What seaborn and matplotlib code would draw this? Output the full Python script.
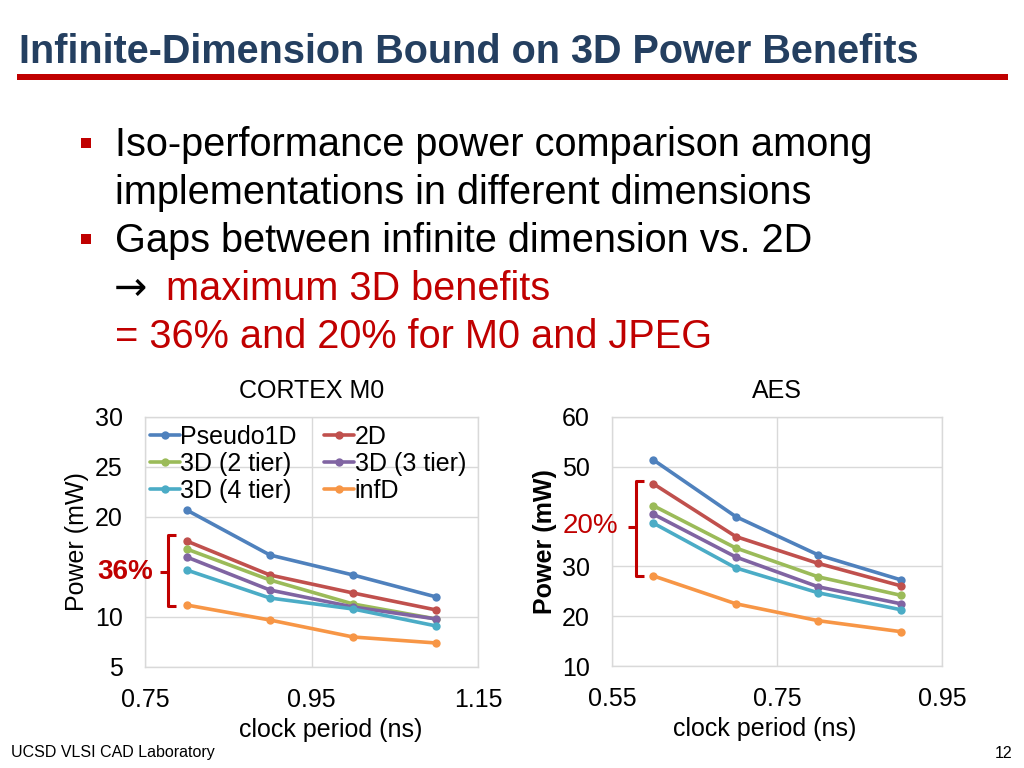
import matplotlib
matplotlib.use("Agg")
import matplotlib.pyplot as plt
from matplotlib import font_manager
from matplotlib.lines import Line2D
from matplotlib.patches import Rectangle
import seaborn as sns
import pandas as pd

# ---------------- data ----------------
series = ["Pseudo1D", "2D", "3D (2 tier)", "3D (3 tier)", "3D (4 tier)", "infD"]
colors = ["#4F81BD", "#C0504D", "#9BBB59", "#8064A2", "#4BACC6", "#F79646"]

m0_clock = [0.8, 0.9, 1.0, 1.1]
m0_pseudo1d = [20.7, 16.2, 14.2, 12.0]
m0_2d = [17.6, 14.2, 12.4, 10.7]
m0_3d2 = [16.8, 13.7, 11.3, 9.8]
m0_3d3 = [16.0, 12.7, 11.0, 9.8]
m0_3d4 = [14.7, 11.9, 10.8, 9.1]
m0_infd = [11.2, 9.7, 8.0, 7.4]

aes_clock = [0.6, 0.7, 0.8, 0.9]
aes_pseudo1d = [51.4, 40.0, 32.3, 27.3]
aes_2d = [46.6, 36.0, 30.6, 26.1]
aes_3d2 = [42.2, 33.7, 27.9, 24.2]
aes_3d3 = [40.5, 31.9, 25.9, 22.5]
aes_3d4 = [38.7, 29.7, 24.7, 21.3]
aes_infd = [28.1, 22.5, 19.1, 16.9]

m0_ticks_x = [0.75, 0.95, 1.15]
m0_ticks_y = [5, 10, 20, 25, 30]
aes_ticks_x = [0.55, 0.75, 0.95]
aes_ticks_y = [10, 20, 30, 50, 60]


def long_df(clock, vals):
    rows = []
    for name, v in zip(series, vals):
        for c, p in zip(clock, v):
            rows.append({"clock": c, "power": p, "series": name})
    return pd.DataFrame(rows)


df_m0 = long_df(m0_clock, [m0_pseudo1d, m0_2d, m0_3d2, m0_3d3, m0_3d4, m0_infd])
df_aes = long_df(aes_clock, [aes_pseudo1d, aes_2d, aes_3d2, aes_3d3, aes_3d4, aes_infd])

# ---------------- style ----------------
sns.set_style("white")
names = {f.name for f in font_manager.fontManager.ttflist}
base_font = "Liberation Sans" if "Liberation Sans" in names else "DejaVu Sans"
title_font = "Liberation Sans Narrow" if "Liberation Sans Narrow" in names else base_font
plt.rcParams["font.family"] = [base_font, "DejaVu Sans"]
plt.rcParams["text.color"] = "black"
plt.rcParams["axes.labelcolor"] = "black"
plt.rcParams["axes.titlecolor"] = "black"

W, H = 1024, 768
fig = plt.figure(figsize=(W / 100, H / 100), dpi=100)


def fx(px):
    return px / W


def fy(py):
    return 1 - py / H


RED = "#C00000"
GRID = "#D9D9D9"
FS = 18
palette = dict(zip(series, colors))


def make_axes(left, right, top, bottom):
    return fig.add_axes([fx(left), fy(bottom), fx(right) - fx(left), fy(top) - fy(bottom)])


def style_axes(ax, xlim, ylim, xt, yt, title, ylabel_bold, xlabel_x):
    ax.set_xlim(*xlim)
    ax.set_ylim(*ylim)
    ax.set_xticks(xt)
    ax.set_yticks(yt)
    ax.set_xticklabels([f"{v:g}" for v in xt])
    ax.set_yticklabels([f"{v:g}" for v in yt])
    ax.grid(True, color=GRID, linewidth=1.0)
    ax.set_axisbelow(True)
    for s in ax.spines.values():
        s.set_color(GRID)
        s.set_linewidth(1.0)
    ax.tick_params(axis="both", length=0, labelsize=FS, colors="black")
    ax.tick_params(axis="y", pad=16)
    ax.tick_params(axis="x", pad=15)
    ax.set_title(title, fontsize=FS, pad=14, color="black")
    ax.set_xlabel("clock period (ns)", fontsize=FS, color="black")
    ax.set_ylabel("Power (mW)", fontsize=FS, color="black",
                  fontweight="bold" if ylabel_bold else "normal")
    ax.xaxis.set_label_coords(xlabel_x, -0.205)
    ax.yaxis.set_label_coords(-0.167, 0.5)


ax1 = make_axes(145, 478, 417, 667)
sns.lineplot(data=df_m0, x="clock", y="power", hue="series", hue_order=series,
             palette=palette, marker="o", markersize=6, markeredgewidth=0,
             linewidth=2.6, ax=ax1, legend=True)
style_axes(ax1, (0.75, 1.15), (5, 30), m0_ticks_x, m0_ticks_y, "CORTEX M0", False, 0.559)

ax2 = make_axes(612, 942, 417, 666)
sns.lineplot(data=df_aes, x="clock", y="power", hue="series", hue_order=series,
             palette=palette, marker="o", markersize=6, markeredgewidth=0,
             linewidth=2.6, ax=ax2, legend=False)
style_axes(ax2, (0.55, 0.95), (10, 60), aes_ticks_x, aes_ticks_y, "AES", True, 0.462)

# legend: columns filled column-wise
handles, labels = ax1.get_legend_handles_labels()
hmap = dict(zip(labels, handles))
order = ["Pseudo1D", "3D (2 tier)", "3D (4 tier)", "2D", "3D (3 tier)", "infD"]
leg = ax1.legend([hmap[k] for k in order], order, ncol=2, loc="upper left",
                 bbox_to_anchor=(-0.008, 1.0), frameon=False, fontsize=FS,
                 handlelength=1.2, handletextpad=0.02, columnspacing=1.1,
                 labelspacing=0.13, borderpad=0.3, borderaxespad=0.0)
for t in leg.get_texts():
    t.set_color("black")

# ---------------- slide decorations ----------------
fig.text(fx(19), fy(63), "Infinite-Dimension Bound on 3D Power Benefits",
         fontsize=28.5, fontweight="bold", color="#243F60", family=[title_font, "DejaVu Sans"],
         ha="left", va="baseline")
fig.add_artist(Rectangle((fx(17), fy(80)), fx(1008) - fx(17), fy(74) - fy(80),
                         transform=fig.transFigure, color=RED, linewidth=0))

for by in (138, 234):
    fig.add_artist(Rectangle((fx(80.5), fy(by + 10)), fx(10), 10 / H,
                             transform=fig.transFigure, color=RED, linewidth=0))

BFS = 28.6
fig.text(fx(115), fy(156), "Iso-performance power comparison among", fontsize=BFS, va="baseline")
fig.text(fx(115), fy(204), "implementations in different dimensions", fontsize=BFS, va="baseline")
fig.text(fx(115), fy(252), "Gaps between infinite dimension vs. 2D", fontsize=BFS, va="baseline")
fig.text(fx(114), fy(300), "\u2192", fontsize=BFS, va="baseline", family=["DejaVu Sans"])
fig.text(fx(166), fy(300), "maximum 3D benefits", fontsize=BFS, va="baseline", color=RED)
fig.text(fx(115), fy(348), "= 36% and 20% for M0 and JPEG", fontsize=BFS, va="baseline", color=RED)

# brackets
def bracket(x, y0, y1, ymid, cap=8, tick=8):
    kw = dict(transform=fig.transFigure, color=RED, linewidth=2.2, solid_capstyle="butt")
    fig.add_artist(Line2D([fx(x + cap), fx(x), fx(x), fx(x + cap)],
                          [fy(y0), fy(y0), fy(y1), fy(y1)], **kw))
    fig.add_artist(Line2D([fx(x - tick), fx(x)], [fy(ymid), fy(ymid)], **kw))


bracket(168, 535, 606, 572)
fig.text(fx(153), fy(572), "36%", fontsize=20, fontweight="bold", color=RED, ha="right", va="center")
bracket(636, 481, 576, 527)
fig.text(fx(618), fy(526), "20%", fontsize=20, color=RED, ha="right", va="center")

fig.text(fx(11), fy(752), "UCSD VLSI CAD Laboratory", fontsize=11.5, va="center")
fig.text(fx(1012), fy(753), "12", fontsize=11.5, va="center", ha="right")

fig.savefig("out.png", dpi=100)
